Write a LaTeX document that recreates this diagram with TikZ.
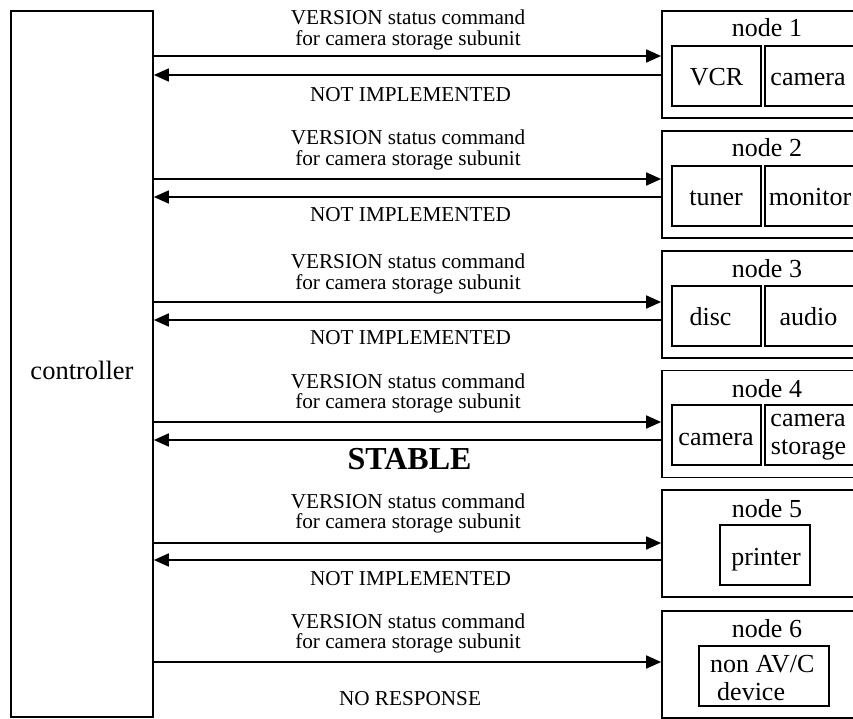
\documentclass[tikz,border=0pt]{standalone}
\usepackage{fontspec}
\setmainfont{Liberation Serif}
\usetikzlibrary{arrows.meta}
\begin{document}
\begin{tikzpicture}[x=1pt,y=-1pt,
  box/.style={draw,line width=1.7pt,rectangle,inner sep=0pt},
  lbl/.style={font=\fontsize{21.2}{20.3}\selectfont,align=center,inner sep=0pt},
  dev/.style={font=\fontsize{26}{28}\selectfont,inner sep=0pt,anchor=base},
  big/.style={font=\fontsize{32}{34}\selectfont\bfseries,inner sep=0pt},
  fwd/.style={line width=1.7pt,-{Triangle[length=15pt,width=13pt]}},
  outerbox/.style={box,minimum width=200pt,minimum height=107pt},
  unitbox/.style={box,minimum width=89pt,minimum height=60pt},
  widebox/.style={box,minimum width=90pt,minimum height=60pt},
]
\useasboundingbox (0,0) rectangle (853,719);
\clip (0,0) rectangle (853,719);

% controller
\node[box,minimum width=142pt,minimum height=706pt] (ctrl) at (82,364) {};
\node[dev,font=\fontsize{26.5}{28}\selectfont] (ctrltext) at (82,379) {controller};

% node 1
\node[outerbox] (n1) at (762,64.5) {};
\node[dev] (t1) at (767,37) {node 1};
\node[unitbox] (u1a) at (716.5,76) {};
\node[widebox] (u1b) at (810,76) {};
\node[dev] (x1a) at (716.5,86) {VCR};
\node[dev] (x1b) at (808,86) {camera};

% node 2
\node[outerbox] (n2) at (762,184.5) {};
\node[dev] (t2) at (767,157) {node 2};
\node[unitbox] (u2a) at (716.5,196) {};
\node[widebox] (u2b) at (810,196) {};
\node[dev] (x2a) at (716,206) {tuner};
\node[dev] (x2b) at (810,206) {monitor};

% node 3
\node[outerbox] (n3) at (762,304.5) {};
\node[dev] (t3) at (767,277) {node 3};
\node[unitbox] (u3a) at (716.5,316) {};
\node[widebox] (u3b) at (810,316) {};
\node[dev] (x3a) at (710.5,325.5) {disc};
\node[dev] (x3b) at (808.5,325.5) {audio};

% node 4
\node[outerbox] (n4) at (762,424) {};
\node[dev] (t4) at (767,397) {node 4};
\node[unitbox] (u4a) at (716.5,435) {};
\node[widebox] (u4b) at (810,435) {};
\node[dev] (x4a) at (716,445) {camera};
\node[dev] (x4b) at (808,426) {camera};
\node[dev] (x4c) at (808.5,454) {storage};

% node 5
\node[outerbox] (n5) at (762,543.5) {};
\node[dev] (t5) at (767,517) {node 5};
\node[box,minimum width=90pt,minimum height=60pt] (u5) at (765,555) {};
\node[dev] (x5) at (766,565) {printer};

% node 6
\node[outerbox] (n6) at (762,664.5) {};
\node[dev] (t6) at (767,637) {node 6};
\node[box,minimum width=130pt,minimum height=60pt] (u6) at (764,676) {};
\node[dev,anchor=base west] (x6a) at (710,672) {non AV/C};
\node[dev,anchor=base west] (x6b) at (717,700) {device};

% request / response rows
\coordinate (f1) at (662,56);  \coordinate (b1) at (662,75);
\coordinate (f2) at (662,179); \coordinate (b2) at (662,197);
\coordinate (f3) at (662,302); \coordinate (b3) at (662,320);
\coordinate (f4) at (662,422); \coordinate (b4) at (662,440);
\coordinate (f5) at (662,543); \coordinate (b5) at (662,560);
\coordinate (f6) at (662,662);

\foreach \k in {1,...,6}{
  \draw[fwd] (ctrl.east |- f\k) -- (n\k.west |- f\k);
}
\foreach \k in {1,...,5}{
  \draw[fwd] (n\k.west |- b\k) -- (ctrl.east |- b\k);
}

% labels
\node[lbl] (q1) at (408,30)    {VERSION status command\\for camera storage subunit};
\node[lbl] (q2) at (408,150)   {VERSION status command\\for camera storage subunit};
\node[lbl] (q3) at (408,274)   {VERSION status command\\for camera storage subunit};
\node[lbl] (q4) at (408,393.5) {VERSION status command\\for camera storage subunit};
\node[lbl] (q5) at (408,513.5) {VERSION status command\\for camera storage subunit};
\node[lbl] (q6) at (408,633.5) {VERSION status command\\for camera storage subunit};

\node[lbl] (r1) at (410.5,95)  {NOT IMPLEMENTED};
\node[lbl] (r2) at (410.5,215) {NOT IMPLEMENTED};
\node[lbl] (r3) at (410.5,338) {NOT IMPLEMENTED};
\node[big] (r4) at (409.5,459) {STABLE};
\node[lbl] (r5) at (410.5,579) {NOT IMPLEMENTED};
\node[lbl] (r6) at (410,699)   {NO RESPONSE};
\end{tikzpicture}
\end{document}
